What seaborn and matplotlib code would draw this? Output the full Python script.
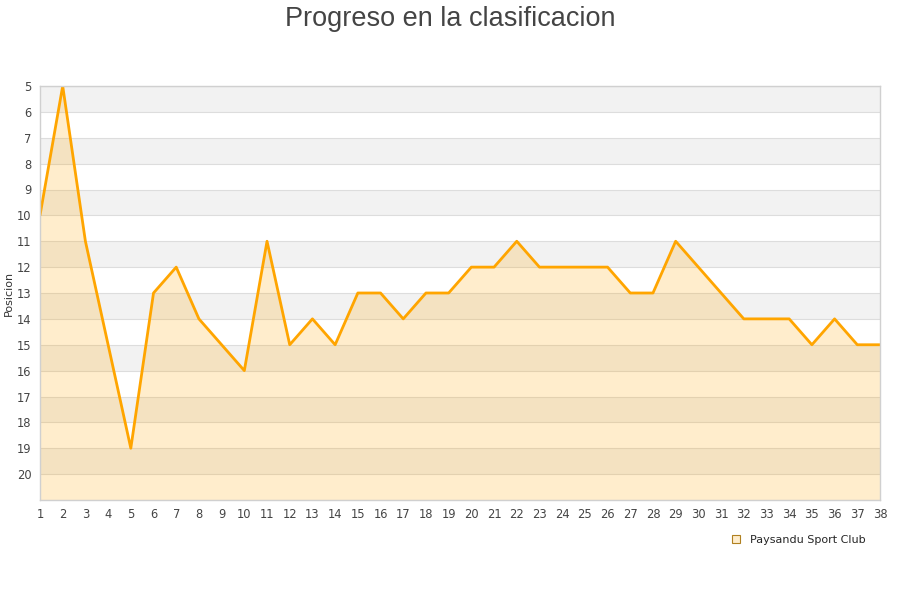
import pandas as pd
import matplotlib
matplotlib.use("Agg")
import matplotlib.pyplot as plt
import seaborn as sns
from matplotlib.lines import Line2D

# jornadas and league position of the club
jornadas = list(range(1, 39))
posiciones = [10, 5, 11, 15, 19, 13, 12, 14, 15, 16,
              11, 15, 14, 15, 13, 13, 14, 13, 13, 12,
              12, 11, 12, 12, 12, 12, 13, 13, 11, 12,
              13, 14, 14, 14, 15, 14, 15, 15]
equipo = "Paysandu Sport Club"
titulo = "Progreso en la clasificacion"

df = pd.DataFrame({"Jornada": jornadas, "Posicion": posiciones})

sns.set_style("white")
plt.rcParams['font.family'] = ['DejaVu Sans']

fig = plt.figure(figsize=(9, 6), dpi=100)
ax = fig.add_axes([40 / 900, 100 / 600, 840 / 900, 414 / 600])

# alternating bands
for y in range(5, 21, 2):
    ax.axhspan(y, y + 1, color="#f2f2f2", zorder=0, lw=0)
for y in range(5, 22):
    ax.axhline(y, color="#dddddd", lw=0.8, zorder=0.5)

ax.fill_between(df["Jornada"], df["Posicion"], 21, color="orange", alpha=0.2, lw=0, zorder=1)
sns.lineplot(data=df, x="Jornada", y="Posicion", ax=ax, color="orange", lw=2.0, zorder=2)

ax.set_xlim(1, 38)
ax.set_ylim(21, 5)
ax.set_xticks(jornadas)
ax.set_yticks(range(5, 21))
ax.tick_params(axis="both", labelsize=8.3, colors="#444444", length=0, pad=6)
ax.set_xlabel("")
ax.set_ylabel("Posicion", fontsize=8, color="#333333", labelpad=2)
for s in ax.spines.values():
    s.set_color("#d0d0d0")
    s.set_linewidth(1)

fig.suptitle(titulo, fontsize=19.5, color="#444444", y=0.99, fontfamily="Liberation Sans")

handle = Line2D([], [], marker="s", linestyle="none", markersize=6,
                markerfacecolor="#ffedcc", markeredgecolor="#b08020", markeredgewidth=0.8)
ax.legend([handle], [equipo], loc="upper right", bbox_to_anchor=(0.995, -0.06),
          frameon=False, fontsize=8, handletextpad=0.3)

fig.savefig("out.png", dpi=100)
